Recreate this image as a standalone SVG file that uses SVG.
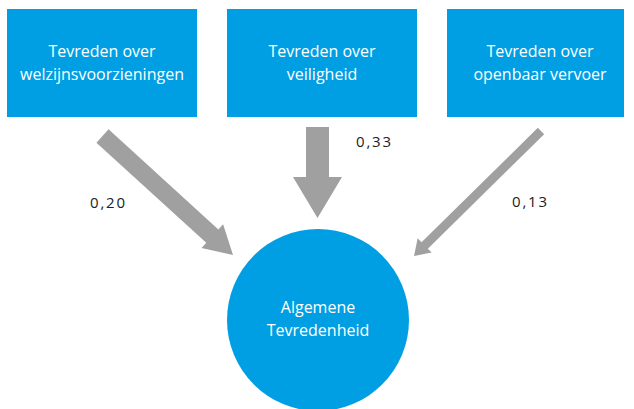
<svg xmlns="http://www.w3.org/2000/svg" width="634" height="409" viewBox="0 0 634 409">
<style>
.box{fill:#009fe3}
.nt{font-family:"Open Sans","Liberation Sans",sans-serif;font-size:16px;fill:#ffffff;text-anchor:middle}
.arrow{fill:#a0a0a0}
.lbl{font-family:"Open Sans","Liberation Sans",sans-serif;font-size:15px;letter-spacing:1.8px;fill:#222222}
</style>
<rect width="634" height="409" fill="#ffffff"/>
<g id="node-welzijn">
<rect class="box" x="7" y="9" width="190" height="108"/>
<text class="nt" x="102" y="57">Tevreden over</text>
<text class="nt" x="102" y="80">welzijnsvoorzieningen</text>
</g>
<g id="node-veiligheid">
<rect class="box" x="227" y="9" width="190" height="108"/>
<text class="nt" x="322" y="57">Tevreden over</text>
<text class="nt" x="322" y="80">veiligheid</text>
</g>
<g id="node-ov">
<rect class="box" x="447" y="9" width="177" height="108"/>
<text class="nt" x="540" y="57">Tevreden over</text>
<text class="nt" x="540" y="80">openbaar vervoer</text>
</g>
<g id="node-algemeen">
<circle class="box" cx="318" cy="320" r="91"/>
<text class="nt" x="318" y="313">Algemene</text>
<text class="nt" x="318" y="336">Tevredenheid</text>
</g>
<g id="connectors">
<polygon class="arrow" points="108.57,129.35 218.38,229.48 223.09,224.31 233,255 201.53,247.95 206.24,242.78 96.43,142.65"/>
<polygon class="arrow" points="306,127 329,127 329,177 342,177 317.5,218 293,177 306,177"/>
<polygon class="arrow" points="537.84,127.79 544.16,134.21 427.85,248.69 431.71,252.61 414,256 417.67,238.35 421.53,242.27"/>
<text class="lbl" x="90" y="208">0,20</text>
<text class="lbl" x="356" y="147">0,33</text>
<text class="lbl" x="512" y="207">0,13</text>
</g>
</svg>
